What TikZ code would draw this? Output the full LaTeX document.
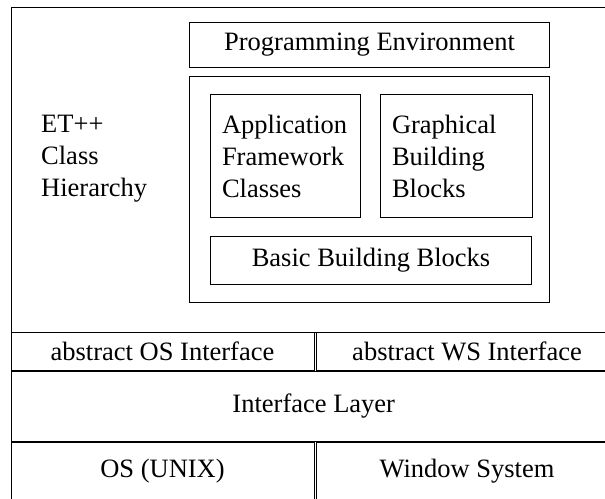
\documentclass[tikz,border=0pt]{standalone}
\usepackage{fontspec}
\setmainfont{Liberation Serif}
\usetikzlibrary{positioning}

\begin{document}
\begin{tikzpicture}[x=1pt,y=-1pt,
    box/.style={draw, line width=1pt, inner sep=0pt, anchor=north west,
      font=\fontsize{26.5}{32}\selectfont},
    stack/.style={box, align=left, inner xsep=11.5pt, text width=#1},
    label/.style={align=left, inner sep=0pt, anchor=west,
      font=\fontsize{26.5}{32}\selectfont}
  ]
  \useasboundingbox (0,0) rectangle (605,498);
  \clip (0,0) rectangle (605,498);
  % ET++ part
  \node[box, minimum width=605.5, minimum height=325] (frame) at (10.5,7) {};
  \node[label] (etpp) at (41,158.5) {ET++\\Class\\Hierarchy};
  \node[box, minimum width=360, minimum height=45] (progenv) at (189,22) {Programming Environment};
  \node[box, minimum width=360, minimum height=226] (classes) at (189,76) {};
  \node[stack=127pt, minimum height=123] (appfw) at (210,94) {Application\\Framework\\Classes};
  \node[stack=129pt, minimum height=123, right=19pt of appfw] (graphbb) {Graphical\\Building\\Blocks};
  \node[box, minimum width=321, minimum height=48] (basicbb) at (210,236) {Basic Building Blocks};
  % interface layer
  \node[box, minimum width=303, minimum height=37.5] (absos) at (10.5,332) {abstract OS Interface};
  \node[box, minimum width=301, minimum height=37.5, right=1.5pt of absos] (absws) {abstract WS Interface};
  \node[box, minimum width=605.5, minimum height=70.5] (iface) at (10.5,370.5) {Interface Layer};
  % system
  \node[box, minimum width=303, minimum height=58] (osunix) at (10.5,442) {OS (UNIX)};
  \node[box, minimum width=301, minimum height=58, right=1.5pt of osunix] (winsys) {Window System};
\end{tikzpicture}
\end{document}
